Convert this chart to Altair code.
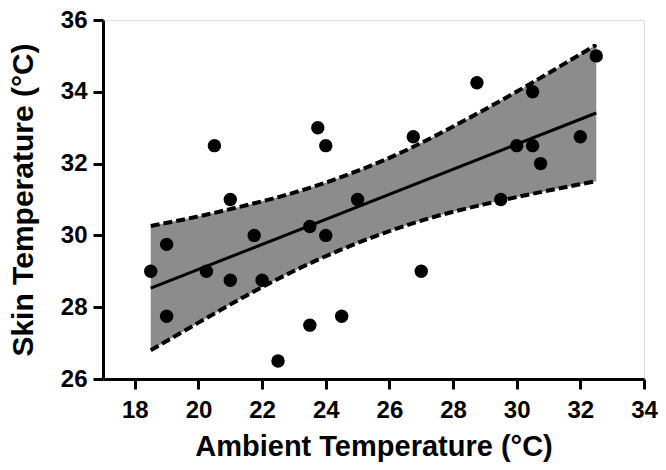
import altair as alt
import pandas as pd

# Scatter points (Ambient vs Skin temperature, °C)
amb = [18.5, 19, 19, 20.25, 20.5, 21, 21, 21.75, 22, 22.5, 23.5, 23.5, 23.75, 24, 24,
       24.5, 25, 26.75, 27, 28.75, 29.5, 30, 30.5, 30.5, 30.75, 32, 32.5]
skin = [29, 29.75, 27.75, 29, 32.5, 31, 28.75, 30, 28.75, 26.5, 27.5, 30.25, 33, 32.5, 30,
        27.75, 31, 32.75, 29, 34.25, 31, 32.5, 34, 32.5, 32, 32.75, 35]

# Regression line endpoints
fit_x = [18.5, 32.5]
fit_y = [28.53, 33.41]

# Confidence band
band_x = [18.5, 20, 21.5, 23, 24.5, 26, 27.5, 29, 30.5, 32.5]
band_hi = [30.26, 30.53, 30.84, 31.19, 31.63, 32.16, 32.80, 33.51, 34.26, 35.31]
band_lo = [26.80, 27.57, 28.32, 29.01, 29.61, 30.12, 30.54, 30.87, 31.16, 31.51]

x_ticks = [18, 19, 20, 21, 22, 23, 24, 25, 26, 27, 28, 29, 30, 31, 32, 33, 34]
y_ticks = [26, 27, 28, 29, 30, 31, 32, 33, 34, 35, 36]

pts = pd.DataFrame({"x": amb, "y": skin})
fit = pd.DataFrame({"x": fit_x, "y": fit_y})
band = pd.DataFrame({"x": band_x, "hi": band_hi, "lo": band_lo})

FONT = "Liberation Sans"
xs = alt.Scale(domain=[17, 34], nice=False, zero=False)
ys = alt.Scale(domain=[26, 36], nice=False, zero=False)

even = "datum.value % 2 === 0"
tick_len = {"condition": {"test": even, "value": 10}, "value": 7}
label_expr = "datum.value % 2 === 0 ? datum.label : ''"

x_axis = alt.Axis(values=x_ticks, tickSize=tick_len, labelExpr=label_expr,
                  labelPadding=9, labelFlush=False, format="d",
                  title="Ambient Temperature (°C)", titleFontSize=29,
                  titleY=76, titleBaseline="alphabetic")
y_axis = alt.Axis(values=y_ticks, tickSize=tick_len, labelExpr=label_expr,
                  labelPadding=6, labelFlush=False, format="d",
                  title="Skin Temperature (°C)", titleFontSize=30,
                  titleX=-71, titleBaseline="alphabetic", titleAngle=-90)

area = alt.Chart(band).mark_area(color="#8c8c8c", opacity=1, interpolate="natural").encode(
    x=alt.X("x:Q", scale=xs, axis=x_axis),
    y=alt.Y("lo:Q", scale=ys, axis=y_axis),
    y2="hi:Q",
)
upper = alt.Chart(band).mark_line(color="black", strokeWidth=4, strokeDash=[9, 4],
                                  interpolate="natural").encode(
    x=alt.X("x:Q", scale=xs), y=alt.Y("hi:Q", scale=ys))
lower = alt.Chart(band).mark_line(color="black", strokeWidth=4, strokeDash=[9, 4],
                                  interpolate="natural").encode(
    x=alt.X("x:Q", scale=xs), y=alt.Y("lo:Q", scale=ys))
line = alt.Chart(fit).mark_line(color="black", strokeWidth=3).encode(
    x=alt.X("x:Q", scale=xs), y=alt.Y("y:Q", scale=ys))
points = alt.Chart(pts).mark_circle(color="black", opacity=1, size=180).encode(
    x=alt.X("x:Q", scale=xs),
    y=alt.Y("y:Q", scale=ys),
)

chart = alt.layer(area, upper, lower, line, points).properties(
    width=541, height=359,
    autosize=alt.AutoSizeParams(type="none"),
    padding={"left": 95, "top": 12, "right": 14, "bottom": 83},
).configure_view(stroke=None).configure(background="white").configure_axis(
    domainColor="black", domainWidth=3, tickColor="black", tickWidth=3, grid=False,
    labelFont=FONT, labelFontWeight="bold", labelFontSize=24, labelColor="black",
    titleFont=FONT, titleFontWeight="bold", titleColor="black", labelOverlap=False,
)

chart.save("out.html", embed_options={"renderer": "svg", "actions": False})
